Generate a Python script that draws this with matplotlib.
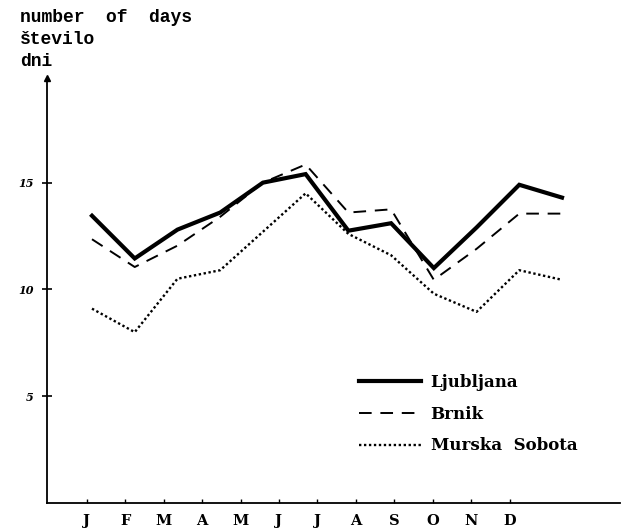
import matplotlib
matplotlib.use("Agg")
import matplotlib.pyplot as plt

# number of days per month
months = ["J", "F", "M", "A", "M", "J", "J", "A", "S", "O", "N", "D"]
ljubljana = [13.45, 11.45, 12.8, 13.6, 15.0, 15.4, 12.75, 13.1, 11.0, 12.9, 14.9, 14.3]
brnik = [12.35, 11.05, 12.05, 13.4, 15.0, 15.85, 13.6, 13.75, 10.45, 11.9, 13.55, 13.55]
murska_sobota = [9.1, 8.0, 10.5, 10.9, 12.7, 14.5, 12.6, 11.6, 9.8, 8.95, 10.9, 10.45]
yticks = [5, 10, 15]

x = list(range(1, 13))

fig = plt.figure(figsize=(6.22, 5.32), dpi=100)
ax = fig.add_axes([47 / 622, 29 / 532, 573 / 622, 425 / 532])

ax.plot(x, ljubljana, color="black", lw=3.0, solid_joinstyle="miter", label="Ljubljana")
ax.plot(x, brnik, color="black", lw=1.4, linestyle=(0, (6.5, 4.5)), label="Brnik")
ax.plot(x, murska_sobota, color="black", lw=1.7, linestyle=(0, (1, 1.1)), label="Murska  Sobota")

ax.set_xlim(1 - 45 / 42.73, 12 + 58 / 42.73)
ax.set_ylim(0, 19.9)

for s in ["top", "right"]:
    ax.spines[s].set_visible(False)
ax.spines["left"].set_linewidth(1.3)
ax.spines["bottom"].set_linewidth(1.3)
ax.set_xticks([])
ax.set_yticks(yticks)
ax.set_yticklabels([str(v) for v in yticks], fontstyle="italic", fontweight="bold",
                   family="DejaVu Serif", fontsize=8)
ax.tick_params(axis="y", direction="inout", length=7, width=1.2, pad=6)

# arrow at the top of the y axis
ax.plot(0, 1, marker="^", color="black", ms=5, transform=ax.transAxes, clip_on=False)

# month labels on their own scale
ax2 = ax.twiny()
ax2.set_xlim(1 - 39.7 / 38.45, 12 + 110.3 / 38.45)
ax2.xaxis.set_ticks_position("bottom")
ax2.xaxis.set_label_position("bottom")
for s in ax2.spines.values():
    s.set_visible(False)
ax2.set_xticks(x)
ax2.set_xticklabels(months, family="DejaVu Serif", fontweight="bold", fontsize=10.5)
ax2.tick_params(axis="x", direction="in", length=3, width=1, pad=8)

leg = ax.legend(loc="upper left", bbox_to_anchor=(297 / 573, 144 / 425), frameon=False,
                handlelength=3.7, handletextpad=0.6, labelspacing=0.88,
                prop={"family": "DejaVu Serif", "weight": "bold", "size": 12})

fig.text(20 / 622, 1 - 17 / 532, "number  of  days", family="Liberation Mono",
         fontweight="bold", fontsize=13, va="center")
fig.text(20 / 622, 1 - 40 / 532, "število", family="Liberation Mono",
         fontweight="bold", fontsize=13, va="center")
fig.text(20 / 622, 1 - 61 / 532, "dni", family="Liberation Mono",
         fontweight="bold", fontsize=13, va="center")

fig.savefig("out.png", dpi=100)
